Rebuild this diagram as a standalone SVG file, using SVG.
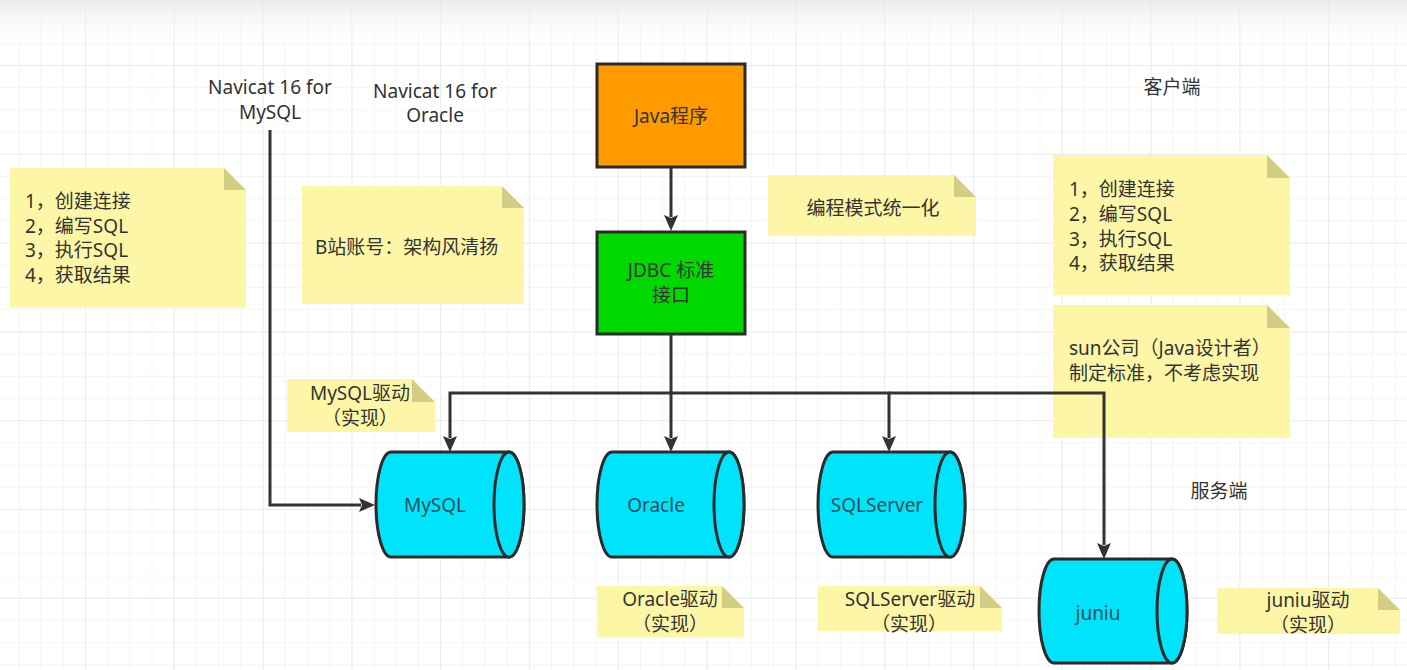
<svg xmlns="http://www.w3.org/2000/svg" width="1407" height="670" viewBox="0 0 1407 670">
<defs>
<style>
.t{font-family:"Noto Sans","Noto Sans CJK SC",sans-serif;font-size:19px;fill:#333;dominant-baseline:central}
.c{text-anchor:middle}
.ct{fill:#1f4f58}
.note{fill:#fcf6a6;stroke:none}
.fold{fill:#d3ce86;stroke:none}
.box{stroke:#2b2b2b;stroke-width:3}
.cyl{fill:#00e4fb;stroke:#2b2b2b;stroke-width:3}
.ln{fill:none;stroke:#333;stroke-width:3}
</style>
<pattern id="gmin" width="22.2" height="22.2" x="18.3" y="20.6" patternUnits="userSpaceOnUse">
<path d="M22.2 0H0V22.2" fill="none" stroke="#ececec" stroke-width="1"/>
</pattern>
<pattern id="gmaj" width="88.8" height="88.8" x="85" y="65" patternUnits="userSpaceOnUse">
<path d="M88.8 0H0V88.8" fill="none" stroke="#e2e2e2" stroke-width="1"/>
</pattern>
<linearGradient id="top" x1="0" y1="0" x2="0" y2="1">
<stop offset="0" stop-color="#e6e6e6" stop-opacity="0.8"/>
<stop offset="1" stop-color="#ffffff" stop-opacity="0"/>
</linearGradient>
<marker id="arr" viewBox="0 0 16 14" refX="2" refY="7" markerWidth="16" markerHeight="14" markerUnits="userSpaceOnUse" orient="auto">
<path d="M0 0L16 7L0 14L3 7Z" fill="#333"/>
</marker>
</defs>
<rect width="1407" height="670" fill="#fff"/>
<rect width="1407" height="670" fill="url(#gmin)"/>
<rect width="1407" height="670" fill="url(#gmaj)"/>
<rect width="1407" height="48" fill="url(#top)"/>

<g id="label-navicat-mysql">
<text class="t c" x="270" y="87">Navicat 16 for</text>
<text class="t c" x="270" y="112">MySQL</text>
</g>
<g id="label-navicat-oracle">
<text class="t c" x="435" y="91">Navicat 16 for</text>
<text class="t c" x="435" y="115">Oracle</text>
</g>
<g id="label-client"><text class="t c" x="1172" y="87">客户端</text></g>
<g id="label-server"><text class="t c" x="1219" y="491">服务端</text></g>

<g id="note-steps-left">
<polygon class="note" points="10,168 224,168 246,190 246,308 10,308"/>
<polygon class="fold" points="224,168 224,190 246,190"/>
<text class="t" x="25" y="201">1，创建连接</text>
<text class="t" x="25" y="226">2，编写SQL</text>
<text class="t" x="25" y="250">3，执行SQL</text>
<text class="t" x="25" y="274.5">4，获取结果</text>
</g>
<g id="note-bilibili">
<polygon class="note" points="302,186 502,186 524,208 524,304 302,304"/>
<polygon class="fold" points="502,186 502,208 524,208"/>
<text class="t" x="315" y="247">B站账号：架构风清扬</text>
</g>
<g id="note-unify">
<polygon class="note" points="768,175 954,175 976,197 976,236 768,236"/>
<polygon class="fold" points="954,175 954,197 976,197"/>
<text class="t c" x="873" y="208">编程模式统一化</text>
</g>
<g id="note-steps-right">
<polygon class="note" points="1053,155 1267,155 1290,178 1290,295 1053,295"/>
<polygon class="fold" points="1267,155 1267,178 1290,178"/>
<text class="t" x="1069" y="189">1，创建连接</text>
<text class="t" x="1069" y="214">2，编写SQL</text>
<text class="t" x="1069" y="238.5">3，执行SQL</text>
<text class="t" x="1069" y="262.5">4，获取结果</text>
</g>
<g id="note-sun">
<polygon class="note" points="1053,305 1267,305 1290,328 1290,438 1053,438"/>
<polygon class="fold" points="1267,305 1267,328 1290,328"/>
<text class="t" x="1069" y="348">sun公司（Java设计者）</text>
<text class="t" x="1069" y="373">制定标准，不考虑实现</text>
</g>
<g id="note-mysql-driver">
<polygon class="note" points="287,379 412,379 435,402 435,432 287,432"/>
<polygon class="fold" points="412,379 412,402 435,402"/>
<text class="t c" x="360" y="393">MySQL驱动</text>
<text class="t c" x="360" y="418">（实现）</text>
</g>
<g id="note-oracle-driver">
<polygon class="note" points="597,586 722,586 744,608 744,637 597,637"/>
<polygon class="fold" points="722,586 722,608 744,608"/>
<text class="t c" x="670" y="599">Oracle驱动</text>
<text class="t c" x="670" y="624">（实现）</text>
</g>
<g id="note-sqlserver-driver">
<polygon class="note" points="818,586 980,586 1002,608 1002,631 818,631"/>
<polygon class="fold" points="980,586 980,608 1002,608"/>
<text class="t c" x="910" y="599">SQLServer驱动</text>
<text class="t c" x="909" y="624">（实现）</text>
</g>
<g id="note-juniu-driver">
<polygon class="note" points="1217,588 1378,588 1400,610 1400,634 1217,634"/>
<polygon class="fold" points="1378,588 1378,610 1400,610"/>
<text class="t c" x="1308" y="600">juniu驱动</text>
<text class="t c" x="1308" y="625">（实现）</text>
</g>

<g id="java">
<rect class="box" x="597" y="64" width="148" height="103" fill="#ff9a00"/>
<text class="t c" x="671" y="116">Java程序</text>
</g>
<g id="jdbc">
<rect class="box" x="597" y="232" width="148" height="102" fill="#00d900"/>
<text class="t c" x="671" y="270">JDBC 标准</text>
<text class="t c" x="671" y="295">接口</text>
</g>

<g id="db-mysql">
<path class="cyl" d="M391 452H509A15 52.5 0 0 1 509 557H391A15 52.5 0 0 1 391 452Z"/>
<ellipse class="cyl" cx="509" cy="504.5" rx="15" ry="52.5"/>
<text class="t c ct" x="435" y="505">MySQL</text>
</g>
<g id="db-oracle">
<path class="cyl" d="M612 452H729A15 52.5 0 0 1 729 557H612A15 52.5 0 0 1 612 452Z"/>
<ellipse class="cyl" cx="729" cy="504.5" rx="15" ry="52.5"/>
<text class="t c ct" x="656" y="505">Oracle</text>
</g>
<g id="db-sqlserver">
<path class="cyl" d="M833 452H950A15 52.5 0 0 1 950 557H833A15 52.5 0 0 1 833 452Z"/>
<ellipse class="cyl" cx="950" cy="504.5" rx="15" ry="52.5"/>
<text class="t c ct" x="877" y="505">SQLServer</text>
</g>
<g id="db-juniu">
<path class="cyl" d="M1054 559H1172A15 52 0 0 1 1172 663H1054A15 52 0 0 1 1054 559Z"/>
<ellipse class="cyl" cx="1172" cy="611" rx="15" ry="52"/>
<text class="t c ct" x="1098" y="613">juniu</text>
</g>

<g id="connectors">
<path class="ln" d="M270 130V505H361" marker-end="url(#arr)"/>
<path class="ln" d="M671 168V217" marker-end="url(#arr)"/>
<path class="ln" d="M671 334V438" marker-end="url(#arr)"/>
<path class="ln" d="M671 393H450V438" marker-end="url(#arr)"/>
<path class="ln" d="M671 393H889V438" marker-end="url(#arr)"/>
<path class="ln" d="M889 393H1104V545" marker-end="url(#arr)"/>
</g>
</svg>
